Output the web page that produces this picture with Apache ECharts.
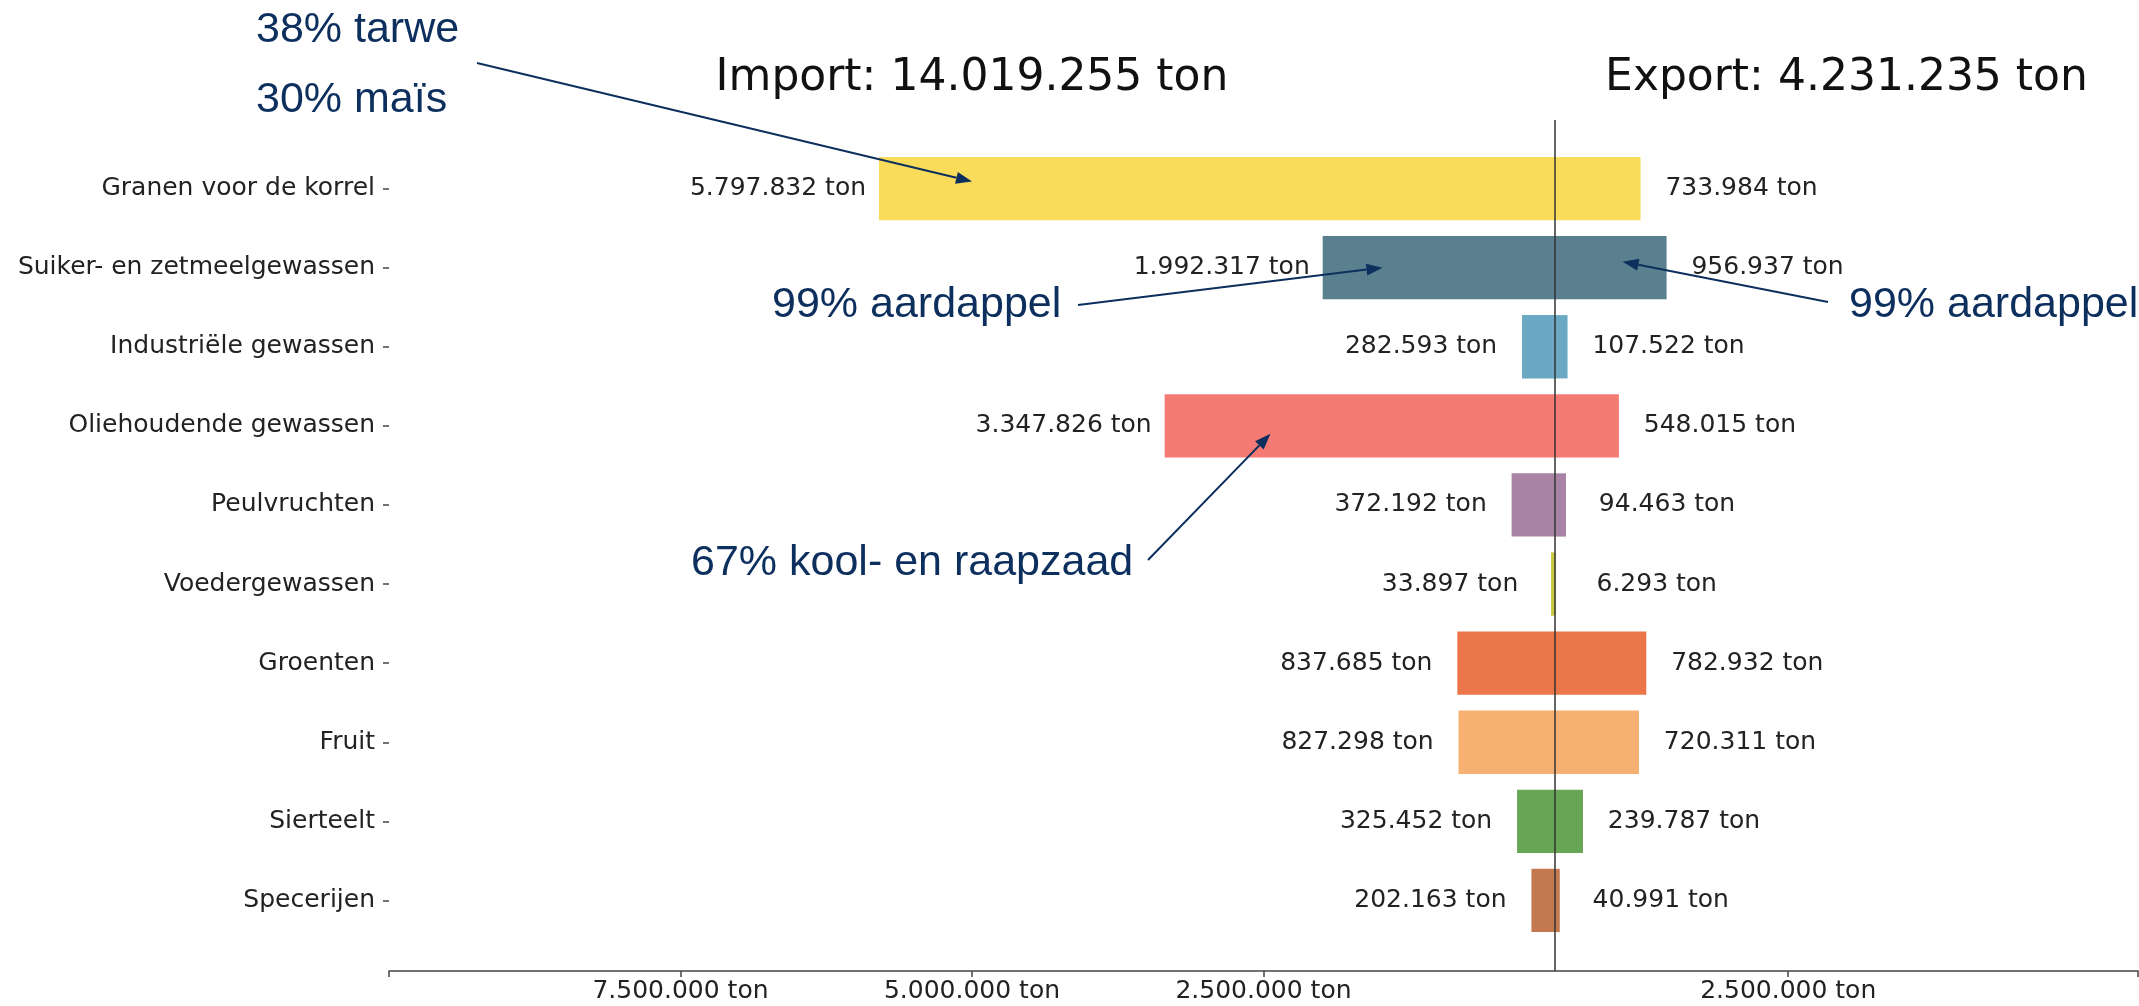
<!DOCTYPE html>
<html>
<head>
<meta charset="utf-8">
<script src="https://cdn.jsdelivr.net/npm/echarts@6/dist/echarts.min.js"></script>
<style>
html,body{margin:0;padding:0;background:#fff;}
#myBarChart{width:2139px;height:1006px;}
</style>
</head>
<body>
<div id="myBarChart"></div>
<script>
// categorieen van boven naar beneden
var categories = ["Granen voor de korrel", "Suiker- en zetmeelgewassen", "Industriële gewassen", "Oliehoudende gewassen",
    "Peulvruchten", "Voedergewassen", "Groenten", "Fruit", "Sierteelt", "Specerijen"];
var importTon = [5797832, 1992317, 282593, 3347826, 372192, 33897, 837685, 827298, 325452, 202163];
var exportTon = [733984, 956937, 107522, 548015, 94463, 6293, 782932, 720311, 239787, 40991];
var barColors = ["#f9dc5a", "#5a7f8e", "#6aa8c4", "#f47a73", "#a983a6", "#c8ca40", "#ea764a", "#f5b072", "#67a655", "#c4784f"];

// x-as: tickwaarden zoals ze op de afbeelding staan
var axisRange = [-10000000, 5000000];
var tickMarks = [-10000000, -7500000, -5000000, -2500000, 2000000, 5000000];
var tickValues = [-7500000, -5000000, -2500000, 2000000];
var tickLabels = ["7.500.000 ton", "5.000.000 ton", "2.500.000 ton", "2.500.000 ton"];
var titleAnchors = [-5000000, 2500000];

// annotaties: tekst + pijl naar een punt op de balk
var noteTexts = ["38% tarwe", "30% maïs", "99% aardappel", "99% aardappel", "67% kool- en raapzaad"];
var arrowTargets = [[-5000000, 0, -7], [-1480000, 1, 0], [580000, 1, -6], [-2440000, 3, 8]];

var NAVY = "#0c2f5e";

function fmtTon(v){
    return Math.abs(v).toString().replace(/\B(?=(\d{3})+(?!\d))/g, ".");
}
function sum(arr){
    var s = 0;
    for(var i=0;i<arr.length;i++) s += arr[i];
    return s;
}

var importData = [];
for(var i=0;i<importTon.length;i++) importData.push(-importTon[i]);

var valueLabel = {
    show: true,
    distance: 101,
    align: "center",
    fontSize: 25,
    fontFamily: "DejaVu Sans",
    color: "#222",
    formatter: function(p){ return fmtTon(p.value) + " ton"; }
};

var chart = echarts.init(document.getElementById("myBarChart"));
var option = {
    animation: false,
    backgroundColor: "#fff",
    grid: [
        {left: 389, right: 1, top: 149, bottom: 66},
        {left: 389, right: 1, top: 120, bottom: 35}
    ],
    xAxis: [
        {type: "value", gridIndex: 0, min: axisRange[0], max: axisRange[1], show: false},
        {
            type: "value", gridIndex: 1, min: axisRange[0], max: axisRange[1],
            splitLine: {show: false},
            axisLine: {show: true, onZero: false, lineStyle: {color: "#444", width: 1.5}},
            axisTick: {show: true, length: 6, customValues: tickMarks, lineStyle: {color: "#444", width: 1.5}},
            axisLabel: {
                customValues: tickValues,
                margin: 8,
                fontSize: 25,
                fontFamily: "DejaVu Sans",
                color: "#222",
                formatter: function(v){
                    var k = tickValues.indexOf(v);
                    return k >= 0 ? tickLabels[k] : "";
                }
            }
        }
    ],
    yAxis: [
        {
            type: "category", gridIndex: 0, data: categories, inverse: true,
            axisLine: {show: false, onZero: false},
            axisTick: {show: true, length: 6, alignWithLabel: true, lineStyle: {color: "#444", width: 1.5}},
            axisLabel: {margin: 14, fontSize: 25, fontFamily: "DejaVu Sans", color: "#222"}
        },
        {type: "value", gridIndex: 1, min: 0, max: 1, show: false}
    ],
    series: [
        {
            name: "Import", type: "bar", stack: "totaal",
            xAxisIndex: 0, yAxisIndex: 0,
            barCategoryGap: "20%",
            data: importData,
            itemStyle: {color: function(p){ return barColors[p.dataIndex]; }},
            label: Object.assign({}, valueLabel, {position: "left"})
        },
        {
            name: "Export", type: "bar", stack: "totaal",
            xAxisIndex: 0, yAxisIndex: 0,
            barCategoryGap: "20%",
            data: exportTon,
            itemStyle: {color: function(p){ return barColors[p.dataIndex]; }},
            label: Object.assign({}, valueLabel, {position: "right"})
        },
        {
            // nullijn over de hele hoogte
            type: "line", xAxisIndex: 1, yAxisIndex: 1,
            data: [[0, 0], [0, 1]],
            symbol: "none", silent: true, z: 5,
            lineStyle: {color: "#333", width: 1.5}
        }
    ]
};
chart.setOption(option);

function arrow(x1, y1, x2, y2){
    var dx = x2 - x1, dy = y2 - y1;
    var len = Math.sqrt(dx*dx + dy*dy);
    var ux = dx/len, uy = dy/len;
    var hl = 16, hw = 6;
    var bx = x2 - ux*hl, by = y2 - uy*hl;
    return [
        {type: "line", shape: {x1: x1, y1: y1, x2: bx, y2: by}, style: {stroke: NAVY, lineWidth: 2}, z: 20},
        {type: "polygon", shape: {points: [[x2, y2], [bx - uy*hw, by + ux*hw], [bx + uy*hw, by - ux*hw]]}, style: {fill: NAVY}, z: 20}
    ];
}
function noteText(txt, x, y){
    return {type: "text", x: x, y: y, z: 20,
        style: {text: txt, fill: NAVY, font: "43px 'Liberation Sans', Arial, sans-serif", textVerticalAlign: "middle"}};
}

var graphics = [];
// titels boven import en export
var titles = ["Import: " + fmtTon(sum(importTon)) + " ton", "Export: " + fmtTon(sum(exportTon)) + " ton"];
for(var t=0;t<titles.length;t++){
    var tx = chart.convertToPixel({xAxisIndex: 1}, titleAnchors[t]);
    graphics.push({type: "text", x: tx, y: 79, z: 20,
        style: {text: titles[t], fill: "#111", font: "44px 'DejaVu Sans'", textAlign: "center", textVerticalAlign: "middle"}});
}

var tails = [[477, 63], [1078, 305], [1828, 302], [1148, 560]];
for(var a=0;a<arrowTargets.length;a++){
    var tg = arrowTargets[a];
    var pt = chart.convertToPixel({xAxisIndex: 0, yAxisIndex: 0}, [tg[0], categories[tg[1]]]);
    graphics = graphics.concat(arrow(tails[a][0], tails[a][1], pt[0], pt[1] + tg[2]));
}
graphics.push(noteText(noteTexts[0], 256, 30));
graphics.push(noteText(noteTexts[1], 256, 100));
graphics.push(noteText(noteTexts[2], 772, 305));
graphics.push(noteText(noteTexts[3], 1849, 305));
graphics.push(noteText(noteTexts[4], 691, 563));

chart.setOption({graphic: graphics});
</script>
</body>
</html>
